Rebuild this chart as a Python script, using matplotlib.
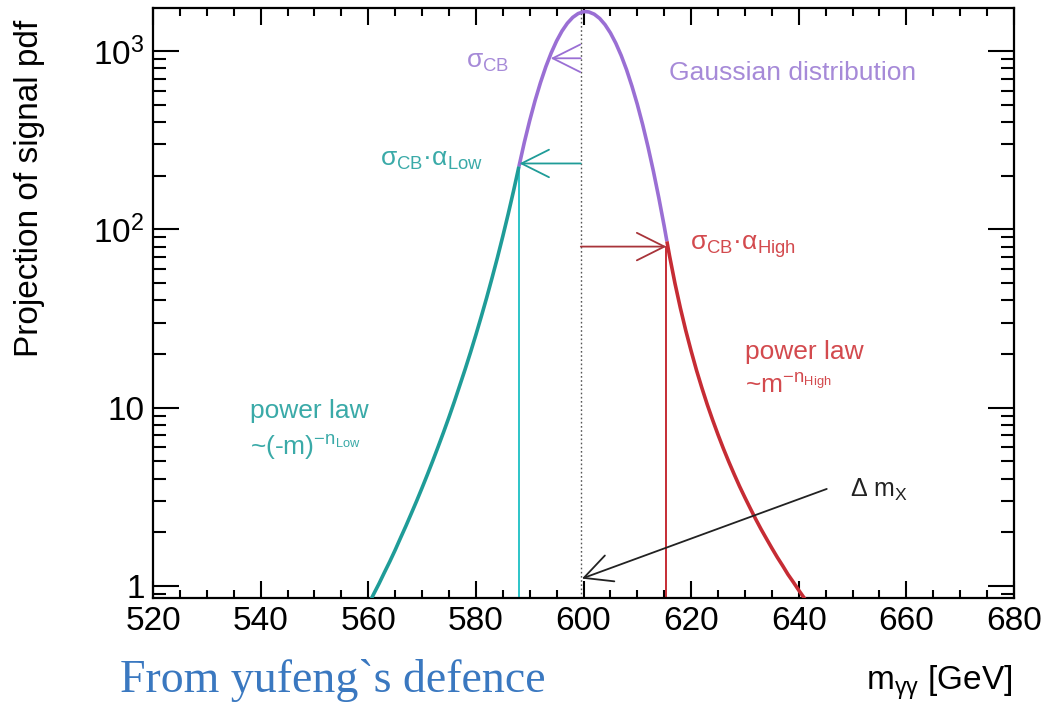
import matplotlib
matplotlib.use("Agg")
import matplotlib.pyplot as plt
from matplotlib.ticker import FixedLocator, MultipleLocator, LogLocator, NullFormatter

plt.rcParams['font.family'] = ['Liberation Sans', 'DejaVu Sans']
plt.rcParams['mathtext.fontset'] = 'custom'
plt.rcParams['mathtext.rm'] = 'Liberation Sans'
plt.rcParams['mathtext.it'] = 'Liberation Sans:italic'
plt.rcParams['mathtext.bf'] = 'Liberation Sans:bold'

# low-side power-law tail
low_x = [560, 561, 562, 563, 564, 565, 566, 567, 568, 569, 570, 571, 572, 573,
         574, 575, 576, 577, 578, 579, 580, 581, 582, 583, 584, 585, 586, 587, 588]
low_y = [0.78, 0.90, 1.03, 1.19, 1.37, 1.59, 1.86, 2.17, 2.55, 3.00, 3.55, 4.22,
         5.04, 6.05, 7.29, 8.84, 10.8, 13.3, 16.4, 20.4, 25.6, 32.4, 41.3, 53.3,
         69.3, 91.3, 121.6, 164.2, 225]

# gaussian core
gaus_x = [588, 589, 590, 591, 592, 593, 594, 595, 596, 597, 598, 599, 600, 600.4,
          601, 602, 603, 604, 605, 606, 607, 608, 609, 610, 611, 612, 613, 614,
          615, 615.5]
gaus_y = [225, 307, 407, 527, 664, 816, 976, 1138, 1293, 1431, 1543, 1621, 1660,
          1663, 1655, 1608, 1523, 1405, 1263, 1106, 944, 785, 635, 502, 386, 289,
          211, 150, 104, 85.6]

# high-side power-law tail
high_x = [615.5, 616, 617, 618, 619, 620, 621, 622, 623, 624, 625, 626, 627, 628,
          629, 630, 631, 632, 633, 634, 635, 636, 637, 638, 639, 640, 641, 642]
high_y = [85.6, 70.7, 49.7, 36.2, 27.1, 20.8, 16.2, 12.9, 10.4, 8.52, 7.05, 5.89,
          4.97, 4.23, 3.62, 3.13, 2.72, 2.37, 2.08, 1.84, 1.63, 1.45, 1.30, 1.16,
          1.05, 0.946, 0.857, 0.779]

mean_x = 599.5
low_join = (588.1, 234)
high_join = (615.4, 80)
sigma_pt = (593.9, 910)
dm_from = (645.2, 3.5)
dm_to = (599.7, 1.1)

y_ticks = [1, 10, 100, 1000]
y_labels = ['1', '10', '10$^{2}$', '10$^{3}$']

purple = '#9a6fd4'
purple_txt = '#a68ad8'
teal = '#1f9c98'
teal_thin = '#2cc4c8'
teal_txt = '#3aaaa8'
red = '#c62c34'
red_txt = '#d34a4e'
red_arrow = '#a8343a'

fig = plt.figure(figsize=(10.53, 7.03), dpi=100)
ax = fig.add_axes([153 / 1053, 1 - 598 / 703, (1014 - 153) / 1053, (598 - 8) / 703])

ax.set_yscale('log')
ax.set_xlim(520, 680)
ax.set_ylim(0.856, 1742)

# guide lines
ax.axvline(mean_x, color='#555555', lw=1.0, ls=(0, (1.2, 1.8)), zorder=1)
ax.plot([low_join[0], low_join[0]], [0.5, low_join[1]], color=teal_thin, lw=1.4, zorder=2)
ax.plot([high_join[0], high_join[0]], [0.5, high_join[1]], color=red, lw=1.4, zorder=2)

# curve pieces
ax.plot(low_x, low_y, color=teal, lw=2.6, zorder=3, solid_capstyle='butt')
ax.plot(gaus_x, gaus_y, color=purple, lw=2.6, zorder=3, solid_capstyle='butt')
ax.plot(high_x, high_y, color=red, lw=2.6, zorder=3, solid_capstyle='butt')

arrow_kw = dict(arrowstyle='->,head_length=0.9,head_width=0.45', lw=1.3,
                mutation_scale=22, shrinkA=0, shrinkB=0)
ax.annotate('', xy=sigma_pt, xytext=(mean_x, sigma_pt[1]),
            arrowprops=dict(color=purple, **arrow_kw), zorder=4)
ax.annotate('', xy=low_join, xytext=(mean_x, low_join[1]),
            arrowprops=dict(color=teal, **arrow_kw), zorder=4)
ax.annotate('', xy=high_join, xytext=(mean_x, high_join[1]),
            arrowprops=dict(color=red_arrow, **arrow_kw), zorder=4)
ax.annotate('', xy=dm_to, xytext=dm_from,
            arrowprops=dict(color='#222222', **arrow_kw), zorder=4)

fs = 19
ax.text(582.1, 867, 'σ$_{\\mathrm{CB}}$', color=purple_txt, fontsize=fs, ha='center', va='center')
ax.text(615.8, 753, 'Gaussian distribution', color=purple_txt, fontsize=fs, ha='left', va='center')
ax.text(562.2, 245, 'σ$_{\\mathrm{CB}}$·α$_{\\mathrm{Low}}$', color=teal_txt, fontsize=fs,
        ha='left', va='center')
ax.text(619.8, 80, 'σ$_{\\mathrm{CB}}$·α$_{\\mathrm{High}}$', color=red_txt, fontsize=fs,
        ha='left', va='center')
ax.text(538.0, 9.6, 'power law', color=teal_txt, fontsize=fs, ha='left', va='center')
ax.text(538.0, 6.0, '~(-m)$^{\\mathrm{-n}_{\\mathrm{Low}}}$', color=teal_txt, fontsize=fs,
        ha='left', va='center')
ax.text(630.0, 20.5, 'power law', color=red_txt, fontsize=fs, ha='left', va='center')
ax.text(630.0, 13.2, '~m$^{\\mathrm{-n}_{\\mathrm{High}}}$', color=red_txt, fontsize=fs,
        ha='left', va='center')
ax.text(649.6, 3.45, 'Δ m$_{\\mathrm{X}}$', color='#222222', fontsize=fs - 1, ha='left', va='center')

# axes styling
for s in ax.spines.values():
    s.set_linewidth(1.6)
ax.xaxis.set_major_locator(MultipleLocator(20))
ax.xaxis.set_minor_locator(MultipleLocator(5))
ax.yaxis.set_major_locator(FixedLocator(y_ticks))
ax.yaxis.set_minor_locator(LogLocator(base=10, subs=range(2, 10)))
ax.yaxis.set_minor_formatter(NullFormatter())
ax.set_yticks(y_ticks)
ax.set_yticklabels(y_labels)
ax.tick_params(which='both', direction='in', top=True, right=True, width=1.5, labelsize=24)
ax.tick_params(axis='x', which='major', length=12, pad=6)
ax.tick_params(axis='x', which='minor', length=6)
ax.tick_params(axis='y', which='major', length=19, pad=6)
ax.tick_params(axis='y', which='minor', length=9.5)

fig.text(30 / 1053, 1 - 188 / 703, 'Projection of signal pdf', rotation=90,
         fontsize=24, ha='center', va='center')
fig.text(1013 / 1053, 1 - 690 / 703, 'm$_{\\mathrm{γγ}}$ [GeV]', fontsize=24,
         ha='right', va='baseline')
fig.text(120 / 1053, 1 - 692 / 703, 'From yufeng`s defence', fontsize=33,
         family='Liberation Serif', color='#3a78c0', ha='left', va='baseline')

fig.savefig('out.png', dpi=100)
